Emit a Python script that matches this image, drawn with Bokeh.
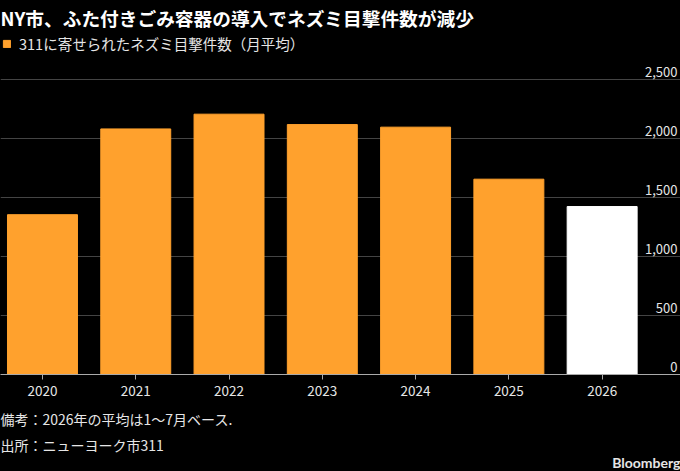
'''
NY rat sightings bar chart (Bloomberg style), drawn with Bokeh.
'''
from bokeh.plotting import figure
from bokeh.models import Title, Legend, LegendItem, FixedTicker, Range1d
from bokeh.core.properties import value
from bokeh.embed import file_html
from bokeh.resources import INLINE

# data
years = ['2020', '2021', '2022', '2023', '2024', '2025', '2026']
sightings = [1355, 2082, 2207, 2119, 2097, 1656, 1424]
y_ticks = [0, 500, 1000, 1500, 2000, 2500]
y_tick_labels = ['0', '500', '1,000', '1,500', '2,000', '2,500']

title_text = 'NY市、ふた付きごみ容器の導入でネズミ目撃件数が減少'
legend_text = '311に寄せられたネズミ目撃件数（月平均）'
note_text = '備考：2026年の平均は1～7月ベース.'
source_text = '出所：ニューヨーク市311'

FONT = 'Noto Sans CJK JP'
ORANGE = '#ffa12d'
TEXT = '#e6e6e6'

xs = list(range(len(years)))
x_end = 6.84

p = figure(
	width=680, height=471,
	x_range=Range1d(-0.45, x_end), y_range=Range1d(0, 2908),
	output_backend='svg', toolbar_location=None,
	background_fill_color='black', border_fill_color='black',
	outline_line_color=None,
	min_border_left=0, min_border_right=0, min_border_top=0, min_border_bottom=0,
)
# black behind the canvas so no seam shows between frame and border
p.styles = {'background-color': 'black'}

# gridlines at the tick values (no line at zero, the axis is there)
p.hspan(y=y_ticks[1:], line_color='#444444', line_width=1)

# bars: full years orange, partial year white
full = [i for i, y in enumerate(years) if y != '2026']
part = [i for i, y in enumerate(years) if y == '2026']
r_full = p.vbar(x=[xs[i] for i in full], top=[sightings[i] for i in full],
	width=0.75, color=ORANGE)
p.vbar(x=[xs[i] for i in part], top=[sightings[i] for i in part],
	width=0.75, color='white')

# y labels sit above the gridlines at the right edge
p.text(x=[x_end] * len(y_ticks), y=y_ticks, text=y_tick_labels,
	text_align='right', text_baseline='bottom', x_offset=-3, y_offset=-3,
	text_font=value(FONT), text_font_size='13px', text_color=TEXT)

p.yaxis.visible = False
p.ygrid.visible = False
p.xgrid.visible = False

ax = p.xaxis[0]
ax.ticker = FixedTicker(ticks=xs)
ax.major_label_overrides = {i: y for i, y in zip(xs, years)}
ax.axis_line_color = '#aaaaaa'
ax.major_tick_line_color = '#aaaaaa'
ax.major_tick_in = 0
ax.major_tick_out = 5
ax.minor_tick_line_color = None
ax.major_label_text_font = FONT
ax.major_label_text_font_size = '13.5px'
ax.major_label_text_color = TEXT
ax.major_label_standoff = 6

# legend in the top-left corner of the frame
legend = Legend(items=[LegendItem(label=legend_text, renderers=[r_full])],
	location='top_left', background_fill_alpha=0, border_line_color=None,
	label_text_color=TEXT, label_text_font=FONT, label_text_font_size='14.5px',
	glyph_width=9, glyph_height=9, label_standoff=8,
	padding=0, margin=2, spacing=0)
p.add_layout(legend, 'center')

# headline
p.add_layout(Title(text=title_text, text_font=FONT, text_font_size='18.7px',
	text_font_style='bold', text_color='white', standoff=2, offset=0), 'above')

# footnotes
p.add_layout(Title(text=note_text, text_font=FONT, text_font_size='14px',
	text_font_style='normal', text_color=TEXT, standoff=16, offset=0), 'below')
p.add_layout(Title(text=source_text, text_font=FONT, text_font_size='14px',
	text_font_style='normal', text_color=TEXT, standoff=-8, offset=0), 'below')
p.add_layout(Title(text='Bloomberg', text_font='Lato', text_font_size='14px',
	text_font_style='bold', text_color=TEXT, align='right', standoff=2), 'below')

open('out.html', 'w').write(file_html(p, INLINE))
